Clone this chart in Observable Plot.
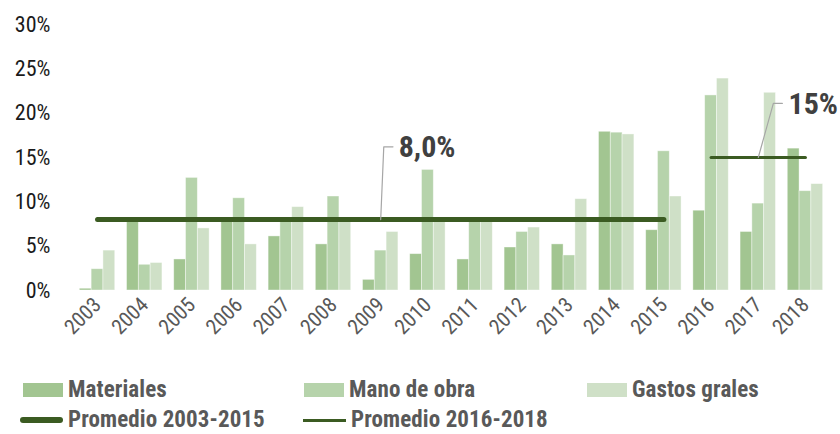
<!DOCTYPE html>
<html>
<head>
<meta charset="utf-8">
<script src="https://cdn.jsdelivr.net/npm/d3@7"></script>
<script src="https://cdn.jsdelivr.net/npm/@observablehq/plot@0.6"></script>
<style>
  body { margin: 0; background: #fff; font-family: "Roboto Condensed", Roboto, sans-serif; }
  #chart { width: 840px; height: 434px; position: relative; overflow: hidden; }
  .legend { position: absolute; left: 0; top: 360px; width: 840px; }
  .row { position: absolute; left: 0; height: 24px; width: 840px; }
  .item { position: absolute; display: flex; align-items: center; height: 24px; line-height: 24px; font-weight: 700; font-size: 23px; color: #595959; letter-spacing: 0.1px; white-space: nowrap; }
  .sw { width: 40px; height: 14px; margin-right: 5px; }
  .ln { width: 43px; border-radius: 3px; margin-right: 5px; }
  g[aria-label^="y-axis"] text { font-size: 22px; fill: #1a1a1a; }
  g[aria-label^="x-axis"] text { font-size: 21px; fill: #595959; }
</style>
</head>
<body>
<div id="chart"></div>
<script>
const years = ["2003","2004","2005","2006","2007","2008","2009","2010","2011","2012","2013","2014","2015","2016","2017","2018"];
const materiales = [0.2, 7.9, 3.5, 7.9, 6.1, 5.2, 1.2, 4.1, 3.5, 4.85, 5.2, 17.9, 6.8, 9.0, 6.6, 16.0];
const manoDeObra = [2.4, 2.9, 12.7, 10.4, 7.9, 10.6, 4.5, 13.6, 7.9, 6.6, 3.95, 17.8, 15.7, 22.0, 9.8, 11.2];
const gastosGrales = [4.5, 3.1, 7.0, 5.2, 9.4, 7.9, 6.6, 7.9, 7.9, 7.1, 10.3, 17.6, 10.6, 23.9, 22.3, 12.0];
const seriesNames = ["Materiales", "Mano de obra", "Gastos grales"];
const seriesColors = ["#a2c591", "#b6d3ab", "#cfe0c7"];
const avgLabels = ["Promedio 2003-2015", "Promedio 2016-2018"];
const avgValues = [8.0, 15.0];
const avgRanges = [["2003", "2015"], ["2016", "2018"]];
const avgText = ["8,0%", "15%"];
const yTicks = [0, 5, 10, 15, 20, 25, 30];
const lineColor = "#3b5b22";

// Build table
const groupWidth = 0.75;
const seriesValues = [materiales, manoDeObra, gastosGrales];
const rows = [];
seriesValues.forEach((vals, s) => {
  vals.forEach((v, i) => {
    const x1 = i - groupWidth / 2 + s * groupWidth / 3;
    rows.push({ series: seriesNames[s], year: years[i], x1, x2: x1 + groupWidth / 3, value: v });
  });
});
const idx = y => years.indexOf(y);
const avgLines = [];
avgRanges.forEach((r, k) => {
  avgLines.push({ k, x: idx(r[0]), y: avgValues[k] });
  avgLines.push({ k, x: idx(r[1]), y: avgValues[k] });
});
// leader lines (callouts) from the average line to the label
const leaders = [
  { k: 0, x: idx("2009"), y: avgValues[0] }, { k: 0, x: idx("2009") + 0.065, y: 16.2 }, { k: 0, x: idx("2009") + 0.26, y: 16.2 },
  { k: 1, x: idx("2017"), y: avgValues[1] }, { k: 1, x: idx("2017") + 0.32, y: 21.1 }, { k: 1, x: idx("2017") + 0.51, y: 21.1 }
];
const labels = [
  { x: idx("2009") + 0.38, y: 16.2, text: avgText[0] },
  { x: idx("2017") + 0.64, y: 21.1, text: avgText[1] }
];

const plot = Plot.plot({
  width: 840,
  height: 360,
  marginTop: 24,
  marginBottom: 70,
  marginLeft: 64,
  marginRight: 2,
  style: { fontFamily: "'Roboto Condensed', Roboto, sans-serif", background: "#fff" },
  x: { domain: [-0.7, 15.7], ticks: d3.range(years.length), tickFormat: i => years[i], tickRotate: -45, tickSize: 0, tickPadding: 11, label: null },
  y: { domain: [0, 30], ticks: yTicks, tickFormat: d => d + "%", tickSize: 0, tickPadding: 14, label: null },
  color: { domain: seriesNames, range: seriesColors },
  marks: [
    Plot.rectY(rows, { x1: "x1", x2: "x2", y: "value", fill: "series", stroke: "#fff", strokeOpacity: 0.5, strokeWidth: 0.8 }),
    Plot.line(avgLines.filter(d => d.k === 0), { x: "x", y: "y", stroke: lineColor, strokeWidth: 5, strokeLinecap: "round" }),
    Plot.line(avgLines.filter(d => d.k === 1), { x: "x", y: "y", stroke: lineColor, strokeWidth: 3 }),
    Plot.line(leaders, { x: "x", y: "y", z: "k", stroke: "#a6a6a6", strokeWidth: 1.2 }),
    Plot.text(labels, { x: "x", y: "y", text: "text", textAnchor: "start", fontSize: 30, fontWeight: 700, fill: "#404040", dy: 1 })
  ]
});
const chart = document.getElementById("chart");
chart.appendChild(plot);

// Legend
const legend = document.createElement("div");
legend.className = "legend";
const row1 = document.createElement("div"); row1.className = "row"; row1.style.top = "18px";
const row2 = document.createElement("div"); row2.className = "row"; row2.style.top = "48px";
const colX = [23, 304, 587];
seriesNames.forEach((n, i) => {
  const it = document.createElement("div"); it.className = "item"; it.style.left = colX[i] + "px";
  const sw = document.createElement("span"); sw.className = "sw"; sw.style.background = seriesColors[i];
  it.appendChild(sw); it.appendChild(document.createTextNode(n)); row1.appendChild(it);
});
const lnX = [20, 303];
const lnH = [6, 3];
avgLabels.forEach((n, i) => {
  const it = document.createElement("div"); it.className = "item"; it.style.left = lnX[i] + "px";
  const ln = document.createElement("span"); ln.className = "ln"; ln.style.height = lnH[i] + "px"; ln.style.background = lineColor;
  if (i === 1) ln.style.borderRadius = "0";
  it.appendChild(ln); it.appendChild(document.createTextNode(n)); row2.appendChild(it);
});
legend.appendChild(row1); legend.appendChild(row2);
chart.appendChild(legend);
</script>
</body>
</html>
